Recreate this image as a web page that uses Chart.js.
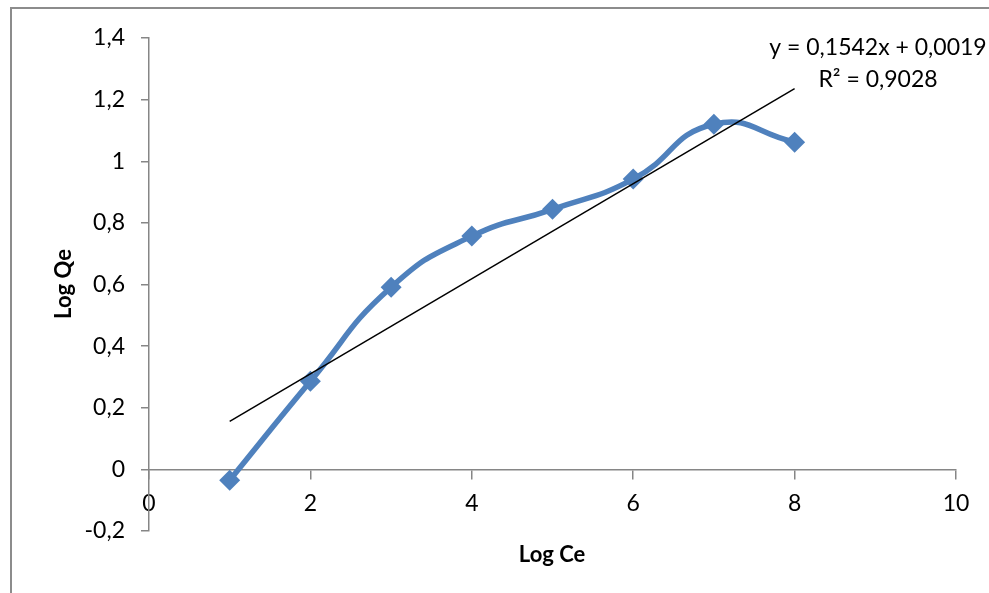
<!DOCTYPE html>
<html>
<head>
<meta charset="utf-8">
<script src="https://cdn.jsdelivr.net/npm/chart.js@4.4.1/dist/chart.umd.min.js"></script>
<style>
  html, body { margin: 0; padding: 0; background: #ffffff; }
  #wrap { width: 989px; height: 593px; }
</style>
</head>
<body>
<div id="wrap"><canvas id="c" width="989" height="593"></canvas></div>
<script>
// ---- data ----
const logCe = [1, 2, 3, 4, 5, 6, 7, 8];
const logQe = [-0.035, 0.286, 0.591, 0.757, 0.844, 0.942, 1.120, 1.062];
const trendSlope = 0.1542;
const trendIntercept = 0.0019;
const trendX = [1, 8];
const xTicks = [0, 2, 4, 6, 8, 10];
const xTickLabels = ['0', '2', '4', '6', '8', '10'];
const yTicks = [-0.2, 0, 0.2, 0.4, 0.6, 0.8, 1, 1.2, 1.4];
const yTickLabels = ['-0,2', '0', '0,2', '0,4', '0,6', '0,8', '1', '1,2', '1,4'];
const equationText = 'y = 0,1542x + 0,0019';
const r2Text = 'R² = 0,9028';
const xTitle = 'Log Ce';
const yTitle = 'Log Qe';

const FONT = 'Lato, "Open Sans", sans-serif';
const AXIS_COLOR = '#868686';
const SERIES_COLOR = '#4F81BD';

const seriesPoints = logCe.map((x, i) => ({ x: x, y: logQe[i] }));
const trendPoints = trendX.map(x => ({ x: x, y: trendSlope * x + trendIntercept }));

const textPlugin = {
  id: 'texts',
  beforeDraw(chart) {
    const ctx = chart.ctx;
    ctx.save();
    ctx.fillStyle = '#ffffff';
    ctx.fillRect(0, 0, chart.width, chart.height);
    ctx.strokeStyle = '#8c8c8c';
    ctx.lineWidth = 2;
    ctx.beginPath();
    ctx.moveTo(11, chart.height + 5);
    ctx.lineTo(11, 8);
    ctx.lineTo(chart.width + 5, 8);
    ctx.stroke();
    ctx.restore();
  },
  afterDraw(chart) {
    const ctx = chart.ctx;
    ctx.save();
    ctx.fillStyle = '#000000';
    ctx.font = '23px ' + FONT;
    ctx.textAlign = 'center';
    ctx.textBaseline = 'alphabetic';
    ctx.fillText(equationText, 878, 55);
    ctx.fillText(r2Text, 878, 87);
    ctx.font = 'bold 22px ' + FONT;
    ctx.fillText(xTitle, 552, 562);
    ctx.translate(71, 284);
    ctx.rotate(-Math.PI / 2);
    ctx.fillText(yTitle, 0, 0);
    ctx.restore();
  }
};

new Chart(document.getElementById('c'), {
  type: 'scatter',
  data: {
    datasets: [
      {
        label: 'Log Qe',
        data: seriesPoints,
        showLine: true,
        tension: 0.5,
        borderColor: SERIES_COLOR,
        backgroundColor: SERIES_COLOR,
        borderWidth: 5.5,
        pointStyle: 'rectRot',
        pointRadius: 10.5,
        pointHoverRadius: 10.5,
        pointBorderWidth: 0,
        order: 1
      },
      {
        label: 'Linear',
        data: trendPoints,
        showLine: true,
        tension: 0,
        borderColor: '#000000',
        borderWidth: 1.5,
        pointRadius: 0,
        order: 0
      }
    ]
  },
  plugins: [textPlugin],
  options: {
    responsive: false,
    animation: false,
    events: [],
    layout: { padding: { left: 0, right: 33, top: 38, bottom: 62 } },
    plugins: { legend: { display: false }, tooltip: { enabled: false } },
    scales: {
      x: {
        type: 'linear',
        position: { y: 0 },
        min: 0, max: 10,
        afterBuildTicks: (s) => { s.ticks = xTicks.map(v => ({ value: v })); },
        ticks: {
          autoSkip: false,
          maxRotation: 0,
          padding: 11,
          color: '#000000',
          font: { family: FONT, size: 23 },
          callback: (v) => xTickLabels[xTicks.indexOf(v)]
        },
        grid: { drawOnChartArea: false, drawTicks: true, tickLength: 9, color: AXIS_COLOR, lineWidth: 1.5 },
        border: { display: true, color: AXIS_COLOR, width: 1.5 }
      },
      y: {
        type: 'linear',
        position: 'left',
        min: -0.2, max: 1.4,
        afterBuildTicks: (s) => { s.ticks = yTicks.map(v => ({ value: v })); },
        afterFit: (s) => { s.width = 149; },
        ticks: {
          autoSkip: false,
          padding: 16,
          color: '#000000',
          font: { family: FONT, size: 23 },
          callback: (v) => { const i = yTicks.findIndex(t => Math.abs(t - v) < 1e-9); return yTickLabels[i]; }
        },
        grid: { drawOnChartArea: false, drawTicks: true, tickLength: 8, color: AXIS_COLOR, lineWidth: 1.5 },
        border: { display: true, color: AXIS_COLOR, width: 1.5 }
      }
    }
  }
});
</script>
</body>
</html>
